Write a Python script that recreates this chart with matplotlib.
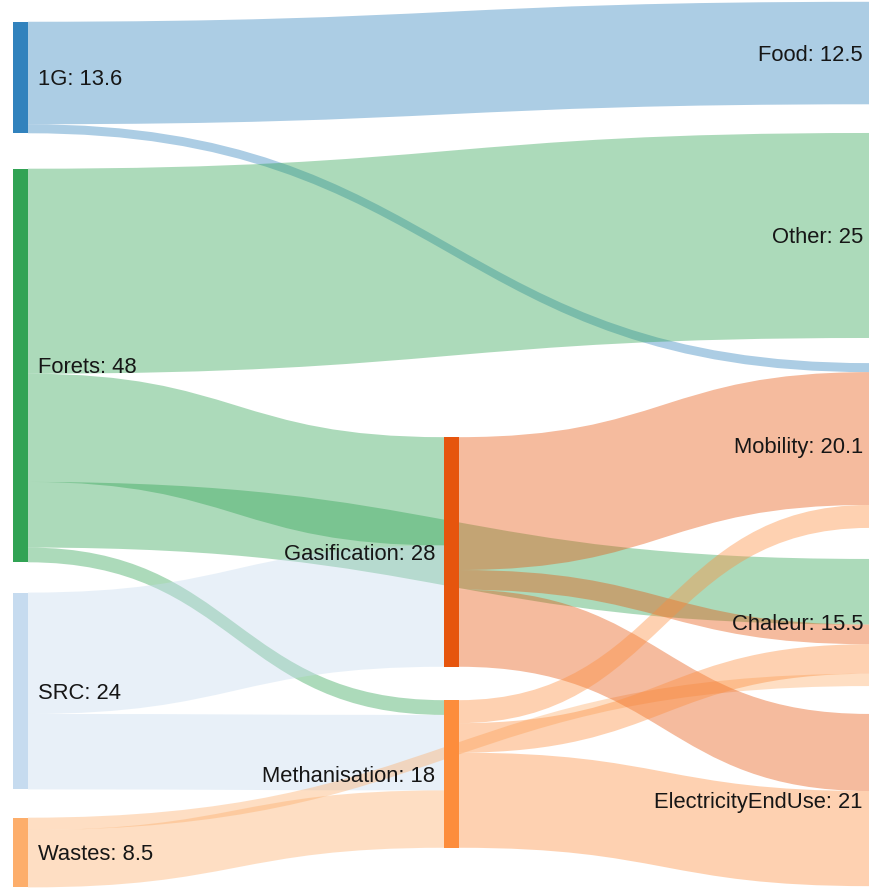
import matplotlib
matplotlib.use("Agg")
import matplotlib.pyplot as plt
from matplotlib.path import Path
from matplotlib.patches import PathPatch, Rectangle
from matplotlib import font_manager

# ---------------- data ----------------
node_names = ["1G", "Forets", "SRC", "Wastes", "Gasification", "Methanisation",
              "Food", "Other", "Mobility", "Chaleur", "ElectricityEndUse"]
node_colors = ["#3182bd", "#31a354", "#c6dbef", "#fdae6b", "#e6550d", "#fd8d3c",
               None, None, None, None, None]
link_source = ["1G", "1G", "Forets", "Forets", "Forets", "Forets", "SRC", "SRC",
               "Wastes", "Wastes", "Gasification", "Gasification", "Gasification",
               "Methanisation", "Methanisation", "Methanisation"]
link_target = ["Food", "Mobility", "Other", "Gasification", "Chaleur", "Methanisation",
               "Gasification", "Methanisation", "Chaleur", "Methanisation",
               "Mobility", "Chaleur", "ElectricityEndUse",
               "Mobility", "Chaleur", "ElectricityEndUse"]
link_value = [12.5, 1.1, 25, 13.2, 8.0, 1.8, 14.8, 9.2, 1.5, 7.0,
              16.2, 2.4, 9.4, 2.8, 3.6, 11.6]

# ---------------- layout (plotly-like arrangement) ----------------
node_column = [0, 0, 0, 0, 1, 1, 2, 2, 2, 2, 2]
node_y = [0.0868, 0.4093, 0.7738, 0.9547, 0.6181, 0.8667,
          0.0594, 0.2637, 0.4989, 0.6971, 0.8959]
W, H = 884, 893
col_x = [13, 444, 869]
node_w = 15
px_per_unit = 8.2
link_alpha = 0.4

# font
fam = "Liberation Sans Narrow"
try:
    font_manager.findfont(fam, fallback_to_default=False)
    fs_px = 24
except Exception:
    fam = "Liberation Sans"
    fs_px = 22
fs_pt = fs_px * 72 / 100

fig = plt.figure(figsize=(W / 100, H / 100), dpi=100)
ax = fig.add_axes([0, 0, 1, 1])
ax.set_xlim(0, W)
ax.set_ylim(H, 0)
ax.axis("off")

idx = {n: i for i, n in enumerate(node_names)}
n = len(node_names)
vin = [0.0] * n
vout = [0.0] * n
for s, t, v in zip(link_source, link_target, link_value):
    vout[idx[s]] += v
    vin[idx[t]] += v
node_val = [round(max(a, b), 1) for a, b in zip(vin, vout)]

top = [node_y[i] * H - node_val[i] * px_per_unit / 2 for i in range(n)]
xl = [col_x[c] for c in node_column]

# link ordering at nodes (by other node's center)
links = list(range(len(link_value)))
out_off = {}
in_off = {}
for i in range(n):
    outs = sorted([k for k in links if idx[link_source[k]] == i],
                  key=lambda k: node_y[idx[link_target[k]]])
    y = top[i]
    for k in outs:
        out_off[k] = y
        y += link_value[k] * px_per_unit
    ins = sorted([k for k in links if idx[link_target[k]] == i],
                 key=lambda k: node_y[idx[link_source[k]]])
    y = top[i]
    for k in ins:
        in_off[k] = y
        y += link_value[k] * px_per_unit

for k in links:
    s = idx[link_source[k]]
    t = idx[link_target[k]]
    h = link_value[k] * px_per_unit
    x0 = xl[s] + node_w
    x1 = xl[t]
    xm = (x0 + x1) / 2
    y0 = out_off[k]
    y1 = in_off[k]
    verts = [(x0, y0), (xm, y0), (xm, y1), (x1, y1),
             (x1, y1 + h), (xm, y1 + h), (xm, y0 + h), (x0, y0 + h), (x0, y0)]
    codes = [Path.MOVETO, Path.CURVE4, Path.CURVE4, Path.CURVE4,
             Path.LINETO, Path.CURVE4, Path.CURVE4, Path.CURVE4, Path.CLOSEPOLY]
    ax.add_patch(PathPatch(Path(verts, codes), facecolor=node_colors[s],
                           alpha=link_alpha, edgecolor="none", zorder=1))

for i in range(n):
    hgt = node_val[i] * px_per_unit
    if node_colors[i] is not None:
        ax.add_patch(Rectangle((xl[i], top[i]), node_w, hgt,
                               facecolor=node_colors[i], edgecolor="none", zorder=2))
    label = f"{node_names[i]}: {node_val[i]:g}"
    cy = top[i] + hgt / 2 + 0.36 * fs_px
    c = node_column[i]
    if c == 0:
        ax.text(xl[i] + node_w + 10, cy, label, ha="left", va="baseline",
                fontsize=fs_pt, family=fam, color="#161616", zorder=3)
    elif c == 1:
        ax.text(xl[i] - 9, cy, label, ha="right", va="baseline",
                fontsize=fs_pt, family=fam, color="#161616", zorder=3)
    else:
        ax.text(xl[i] - 6, cy, label, ha="right", va="baseline",
                fontsize=fs_pt, family=fam, color="#161616", zorder=3)

fig.savefig("out.png", dpi=100, facecolor="white")
